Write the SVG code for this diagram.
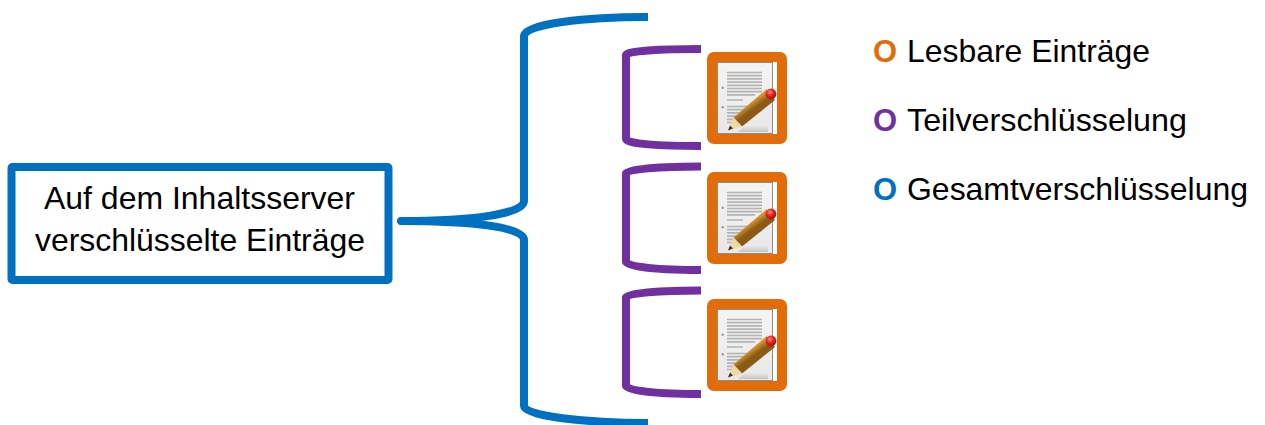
<svg xmlns="http://www.w3.org/2000/svg" width="1265" height="425" viewBox="0 0 1265 425">
<style>
.t{font-family:"Liberation Sans",Arial,sans-serif;font-size:30.5px;fill:#000}
.o{font-family:"Liberation Sans",Arial,sans-serif;font-size:31px;font-weight:bold}
.blue{fill:none;stroke:#0070C0;stroke-width:8}
.pur{fill:none;stroke:#7030A0;stroke-width:8}
.org{fill:#fff;stroke:#E36C0A;stroke-width:10;stroke-linejoin:round}
.ln{stroke:#b4b4b4;stroke-width:1.7}
</style>
<defs>
<linearGradient id="page" x1="0" y1="0" x2="0" y2="1"><stop offset="0" stop-color="#f4f4f4"/><stop offset="1" stop-color="#e8e8e8"/></linearGradient>
<linearGradient id="wood" gradientUnits="userSpaceOnUse" x1="747" y1="97" x2="755" y2="108"><stop offset="0" stop-color="#f6d98a"/><stop offset=".45" stop-color="#dc9c38"/><stop offset="1" stop-color="#8a5a12"/></linearGradient>
<linearGradient id="shade" x1="0" y1="0" x2="0" y2="1"><stop offset="0" stop-color="#e8e8e8"/><stop offset="1" stop-color="#c4c4c4"/></linearGradient>
<radialGradient id="rub" cx=".4" cy=".35" r=".7"><stop offset="0" stop-color="#ff8a80"/><stop offset=".5" stop-color="#e0201a"/><stop offset="1" stop-color="#a01010"/></radialGradient>
<filter id="soft" x="-5%" y="-5%" width="110%" height="110%"><feGaussianBlur stdDeviation="0.5"/></filter>
<g id="icon" filter="url(#soft)">
<rect x="717.500" y="62.500" width="55" height="71" fill="url(#page)" stroke="#8c8c8c" stroke-width="1"/>
<g class="ln">
<path d="M727 72.500H762M727 75.700H762M727 78.900H762M727 82.100H762M727 85.300H762M727 88.500H762M727 91.700H762M727 94.900H755M727 100H743M727 106.500H762M727 109.700H758M727 112.900H752M727 116.100H745M727 119.300H738M727 122.500H735"/>
</g>
<circle cx="722.700" cy="87.700" r="1.200" fill="#999"/><circle cx="722.700" cy="107.300" r="1.200" fill="#999"/>
<path d="M745 126H768V132H738Z" fill="url(#shade)"/>
<path d="M733.500 117.500L766.500 89L775 100L742 126.500Z" fill="url(#wood)"/>
<path d="M728 130.500L733.500 117.500L742 126.500Z" fill="#f0d8a0"/>
<path d="M728 130.500L730 125.500L733 128.500Z" fill="#333"/>
<circle cx="771" cy="94" r="5.400" fill="url(#rub)"/>
</g>
</defs>
<g id="connectors">
<path class="blue" d="M648 17C585 17 524 24 524 36V201C524 214 472 221 401 221"/>
<path class="blue" d="M401 221C472 221 524 227 524 240V406C524 416 585 423 648 423"/>
<circle cx="401" cy="221" r="4" fill="#0070C0"/>
<path class="pur" d="M701 49C660 49 626 51 626 55V139C626 144 660 146 701 146"/>
<path class="pur" d="M701 166.500C660 166.500 626 169 626 173V262C626 267 660 270 701 270"/>
<path class="pur" d="M701 290.500C660 290.500 626 293 626 297V386C626 391 660 394 701 394"/>
</g>
<g id="source"><rect x="11.500" y="167" width="377" height="113" rx="1" fill="#fff" stroke="#0070C0" stroke-width="8" stroke-linejoin="round"/>
<text class="t" x="44" y="208.500" textLength="311" lengthAdjust="spacingAndGlyphs">Auf dem Inhaltsserver</text>
<text class="t" x="35" y="250.500" textLength="330" lengthAdjust="spacingAndGlyphs">verschlüsselte Einträge</text></g>
<g id="entry1"><rect class="org" x="712" y="57" width="70" height="82" rx="2"/><use href="#icon"/></g>
<g id="entry2"><rect class="org" x="712" y="177" width="70" height="82" rx="2"/><use href="#icon" y="120"/></g>
<g id="entry3"><rect class="org" x="712" y="304" width="70" height="82" rx="2"/><use href="#icon" y="247"/></g>
<g id="legend">
<text class="o" x="873" y="61.500" fill="#E36C0A">O</text><text class="t" x="907" y="61.500" textLength="243" lengthAdjust="spacingAndGlyphs">Lesbare Einträge</text>
<text class="o" x="873" y="130.500" fill="#7030A0">O</text><text class="t" x="907" y="130.500" textLength="280" lengthAdjust="spacingAndGlyphs">Teilverschlüsselung</text>
<text class="o" x="873" y="199.500" fill="#0070C0">O</text><text class="t" x="907" y="199.500" textLength="341" lengthAdjust="spacingAndGlyphs">Gesamtverschlüsselung</text>
</g>
</svg>
